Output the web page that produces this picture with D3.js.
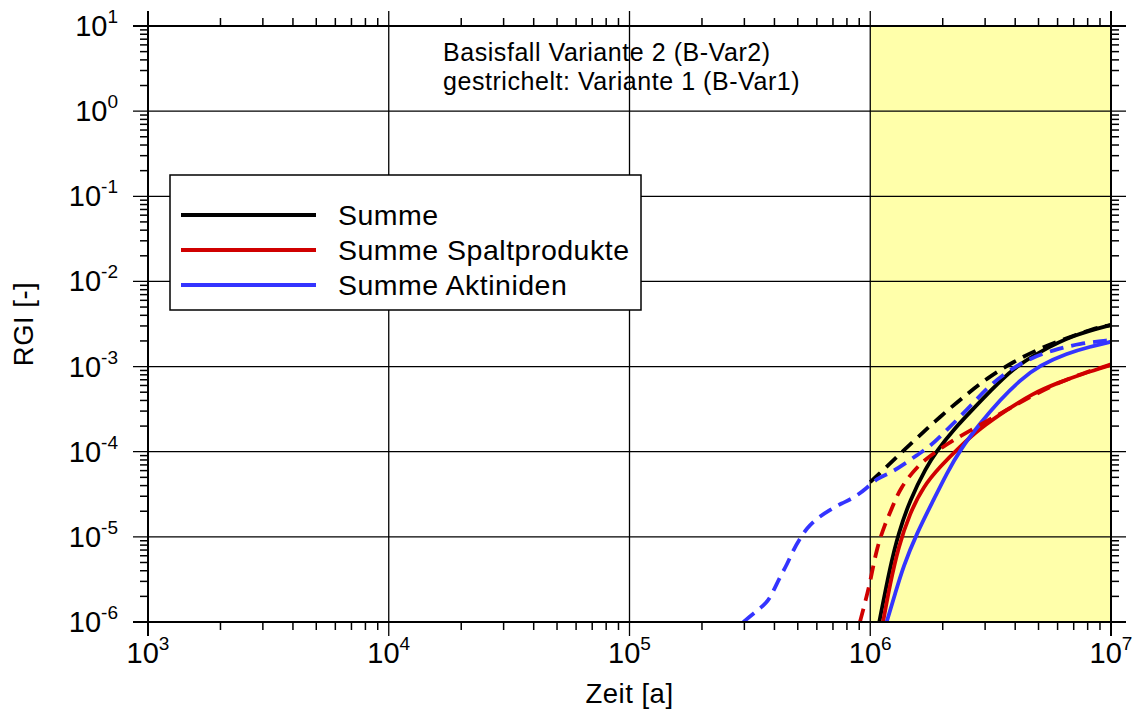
<!DOCTYPE html>
<meta charset="utf-8">
<style>
body { margin: 0; background: #fff; }
text { font-family: Arial, "Liberation Sans", sans-serif; fill: #000; }
.grid line { stroke: #000; stroke-width: 1.3px; }
.frame line { stroke: #000; stroke-width: 2px; }
.ticks line { stroke: #000; stroke-width: 1.5px; }
.curve { fill: none; stroke-width: 3.8px; stroke-linejoin: round; }
</style>
<body>
<svg width="1137" height="713"></svg>
<script src="https://d3js.org/d3.v7.min.js"></script>
<script>

// axis ranges and decade labels
var timeDomain = [1e3, 1e7];
var rgiDomain = [1e-6, 1e1];
var xExponents = [3, 4, 5, 6, 7];
var yExponents = [1, 0, -1, -2, -3, -4, -5, -6];
var highlight = [1e6, 1e7];

var legendNames = ["Summe", "Summe Spaltprodukte", "Summe Aktiniden"];
var noteLines = ["Basisfall Variante 2 (B-Var2)", "gestrichelt: Variante 1 (B-Var1)"];

// [Zeit, RGI] -- Variante 2 (solid)
var summeVar2 = [[1.09e6, 1e-6], [1.21e6, 4.5e-6], [1.31e6, 1.1e-5], [1.46e6, 2.7e-5],
  [1.71e6, 6.6e-5], [1.89e6, 1.02e-4], [2.21e6, 1.8e-4], [2.68e6, 3.2e-4],
  [3.14e6, 5.1e-4], [3.93e6, 9.6e-4], [5.07e6, 1.5e-3], [6.97e6, 2.35e-3], [1e7, 3.08e-3]];
var spaltVar2 = [[1.13e6, 1e-6], [1.21e6, 2.84e-6], [1.31e6, 7.7e-6], [1.46e6, 1.89e-5],
  [1.66e6, 3.9e-5], [1.95e6, 6.7e-5], [2.36e6, 1.15e-4], [2.86e6, 1.88e-4],
  [3.69e6, 3.1e-4], [4.75e6, 4.85e-4], [5.94e6, 6.35e-4], [7.67e6, 8.3e-4], [1e7, 1.04e-3]];
var aktVar2 = [[1.17e6, 1e-6], [1.27e6, 2.17e-6], [1.37e6, 4.46e-6], [1.56e6, 1.1e-5],
  [1.83e6, 2.7e-5], [2.08e6, 5.6e-5], [2.36e6, 1.05e-4], [2.86e6, 2.16e-4],
  [3.46e6, 4.05e-4], [4.19e6, 6.95e-4], [5.07e6, 1.04e-3], [6.55e6, 1.43e-3],
  [8.18e6, 1.71e-3], [1e7, 1.96e-3]];

// Variante 1 (dashed)
var summeVar1 = [[1.0e6, 4.4e-5], [1.06e6, 5.1e-5], [1.29e6, 8.7e-5], [1.56e6, 1.44e-4],
  [1.95e6, 2.58e-4], [2.44e6, 4.4e-4], [3.05e6, 7.3e-4], [3.93e6, 1.14e-3],
  [5.07e6, 1.64e-3], [6.55e6, 2.15e-3], [8.44e6, 2.81e-3], [1e7, 3.08e-3]];
var spaltVar1 = [[9.06e5, 1e-6], [9.5e5, 1.66e-6], [1.0e6, 2.95e-6], [1.06e6, 7.1e-6],
  [1.15e6, 1.41e-5], [1.25e6, 2.4e-5], [1.33e6, 3.7e-5], [1.56e6, 6.7e-5],
  [1.83e6, 9.6e-5], [2.21e6, 1.37e-4], [2.86e6, 2.06e-4], [3.69e6, 3.1e-4],
  [4.75e6, 4.6e-4], [6.14e6, 6.6e-4], [7.8e6, 8.5e-4], [1e7, 1.06e-3]];
var aktVar1 = [[2.97e5, 1e-6], [3.27e5, 1.26e-6], [3.72e5, 1.66e-6], [3.95e5, 2.27e-6],
  [4.22e5, 3.4e-6], [4.5e5, 4.67e-6], [4.79e5, 7.0e-6], [5.11e5, 9.6e-6],
  [5.45e5, 1.26e-5], [6.0e5, 1.65e-5], [6.81e5, 2.07e-5], [7.6e5, 2.48e-5],
  [8.51e5, 2.84e-5], [9.66e5, 3.72e-5], [1.07e6, 4.9e-5], [1.21e6, 5.6e-5],
  [1.37e6, 7.0e-5], [1.56e6, 9.1e-5], [1.77e6, 1.15e-4], [2.08e6, 1.8e-4],
  [2.52e6, 3.1e-4], [3.05e6, 5.6e-4], [3.69e6, 8.7e-4], [4.61e6, 1.25e-3],
  [5.75e6, 1.56e-3], [7.43e6, 1.87e-3], [1e7, 2.05e-3]];

var colors = ["#000000", "#d00000", "#3434ff"];

var svg = d3.select("svg"),
    margin = {left: 148, right: 26, top: 26, bottom: 91},
    width = +svg.attr("width") - margin.left - margin.right,
    height = +svg.attr("height") - margin.top - margin.bottom;

var x = d3.scaleLog().domain(timeDomain).range([0, width]);
var y = d3.scaleLog().domain(rgiDomain).range([height, 0]);

var g = svg.append("g")
    .attr("transform", "translate(" + margin.left + "," + margin.top + ")");

svg.append("defs").append("clipPath").attr("id", "plot")
  .append("rect").attr("width", width).attr("height", height);

g.append("rect")
    .attr("x", x(highlight[0]))
    .attr("width", x(highlight[1]) - x(highlight[0]))
    .attr("height", height)
    .attr("fill", "#ffffaa");

var isMajor = function(v) { return Math.abs(Math.log10(v) - Math.round(Math.log10(v))) < 1e-9; };
var xMinor = x.ticks().filter(function(v) { return !isMajor(v); });
var yMinor = y.ticks().filter(function(v) { return !isMajor(v); });
var xMajor = xExponents.map(function(e) { return Math.pow(10, e); });
var yMajor = yExponents.map(function(e) { return Math.pow(10, e); });

// grid lines, extended a little outside the plot like major ticks
var grid = g.append("g").attr("class", "grid");
grid.selectAll(".gx").data(xMajor.slice(1, -1)).enter().append("line")
    .attr("x1", function(d) { return x(d); }).attr("x2", function(d) { return x(d); })
    .attr("y1", -15).attr("y2", height + 14);
grid.selectAll(".gy").data(yMajor.slice(1, -1)).enter().append("line")
    .attr("y1", function(d) { return y(d); }).attr("y2", function(d) { return y(d); })
    .attr("x1", -15).attr("x2", width + 15);

// minor ticks, pointing outwards on all four sides
var ticks = g.append("g").attr("class", "ticks");
xMinor.forEach(function(d) {
  ticks.append("line").attr("x1", x(d)).attr("x2", x(d)).attr("y1", height).attr("y2", height + 8);
  ticks.append("line").attr("x1", x(d)).attr("x2", x(d)).attr("y1", 0).attr("y2", -8);
});
yMinor.forEach(function(d) {
  ticks.append("line").attr("y1", y(d)).attr("y2", y(d)).attr("x1", 0).attr("x2", -8);
  ticks.append("line").attr("y1", y(d)).attr("y2", y(d)).attr("x1", width).attr("x2", width + 8);
});

// curves
var line = d3.line()
    .x(function(d) { return x(d[0]); })
    .y(function(d) { return y(d[1]); })
    .curve(d3.curveBasis);

var curves = g.append("g").attr("clip-path", "url(#plot)");
var solid = [summeVar2, spaltVar2, aktVar2];
var dashed = [summeVar1, spaltVar1, aktVar1];
solid.forEach(function(s, i) {
  curves.append("path").datum(s).attr("class", "curve")
      .attr("stroke", colors[i]).attr("d", line);
});
dashed.forEach(function(s, i) {
  curves.append("path").datum(s).attr("class", "curve")
      .attr("stroke", colors[i]).attr("stroke-dasharray", "14,8").attr("d", line);
});

// frame
var frame = g.append("g").attr("class", "frame");
frame.append("line").attr("x1", -15).attr("x2", width + 15).attr("y1", 0).attr("y2", 0);
frame.append("line").attr("x1", -15).attr("x2", width + 15).attr("y1", height).attr("y2", height);
frame.append("line").attr("x1", 0).attr("x2", 0).attr("y1", -15).attr("y2", height + 14);
frame.append("line").attr("x1", width).attr("x2", width).attr("y1", -15).attr("y2", height + 14);

// tick labels 10^n
xExponents.forEach(function(e) {
  var t = g.append("text").attr("x", x(Math.pow(10, e))).attr("y", height + 41)
      .attr("text-anchor", "middle").style("font-size", "29px");
  t.append("tspan").text("10");
  t.append("tspan").attr("dy", -13).style("font-size", "19px").text(e);
});
yExponents.forEach(function(e) {
  var t = g.append("text").attr("x", -30).attr("y", y(Math.pow(10, e)) + 10)
      .attr("text-anchor", "end").style("font-size", "29px");
  t.append("tspan").text("10");
  t.append("tspan").attr("dy", -13).style("font-size", "19px").text(e);
});

// axis titles
svg.append("text").attr("x", margin.left + width / 2).attr("y", 703)
    .attr("text-anchor", "middle").style("font-size", "27.5px")
    .style("letter-spacing", "0.5px").text("Zeit [a]");
svg.append("text").attr("transform", "translate(33," + (margin.top + height / 2) + ") rotate(-90)")
    .attr("text-anchor", "middle").style("font-size", "27.5px")
    .style("letter-spacing", "0.5px").text("RGI [-]");

// note
noteLines.forEach(function(s, i) {
  svg.append("text").attr("x", 443).attr("y", 61 + i * 29)
      .style("font-size", "25px").style("letter-spacing", "0.55px").text(s);
});

// legend
var legend = svg.append("g").attr("transform", "translate(170,175)");
legend.append("rect").attr("width", 471).attr("height", 135)
    .attr("fill", "#fff").attr("stroke", "#000").attr("stroke-width", 1.5);
legendNames.forEach(function(name, i) {
  legend.append("line").attr("x1", 11).attr("x2", 146)
      .attr("y1", 40 + i * 35).attr("y2", 40 + i * 35)
      .attr("stroke", colors[i]).attr("stroke-width", 3.8);
  legend.append("text").attr("x", 168).attr("y", 50 + i * 35)
      .style("font-size", "28.5px").style("letter-spacing", "0.5px").text(name);
});

</script>
</body>
